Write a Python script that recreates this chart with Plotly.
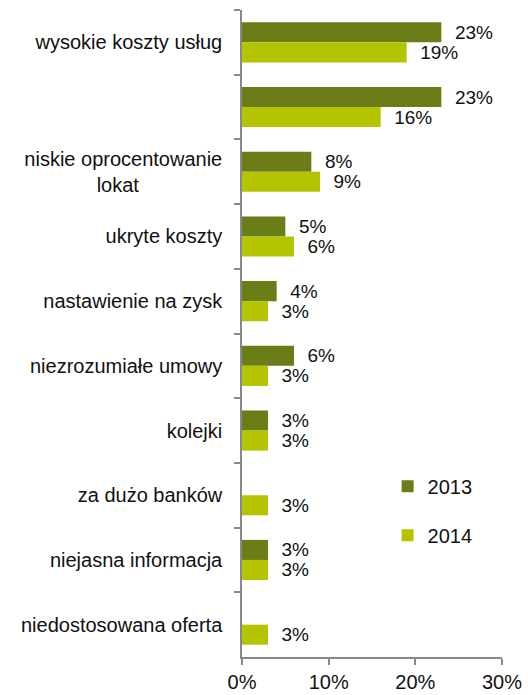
import plotly.graph_objects as go

NB = "\u00a0"
categories = [
    "wysokie koszty usług",
    " ",
    "niskie oprocentowanie<br>lokat" + NB * 15,
    "ukryte koszty",
    "nastawienie na zysk",
    "niezrozumiałe umowy",
    "kolejki",
    "za dużo banków",
    "niejasna informacja",
    "niedostosowana oferta",
]
values_2013 = [23, 23, 8, 5, 4, 6, 3, None, 3, None]
values_2014 = [19, 16, 9, 6, 3, 3, 3, 3, 3, 3]
series_names = ["2013", "2014"]
colors = ["#6b7d17", "#b5c400"]
x_ticks = [0, 10, 20, 30]

FONT = "Liberation Sans, Arial, sans-serif"
pad = NB * 2

fig = go.Figure()
for name, vals, col in zip(series_names, [values_2013, values_2014], colors):
    fig.add_trace(go.Bar(
        y=categories, x=vals, name=name, orientation="h",
        marker=dict(color=col, line=dict(width=0)),
        text=[(pad + f"{v}%") if v is not None else "" for v in vals],
        textposition="outside", cliponaxis=False, constraintext="none",
        textfont=dict(size=19, color="#111", family=FONT),
        legendgroup=name,
    ))

fig.update_layout(
    width=528, height=695,
    margin=dict(l=242, r=26, t=10, b=38),
    barmode="group", bargap=0.38, bargroupgap=0,
    plot_bgcolor="white", paper_bgcolor="white",
    font=dict(family=FONT, size=20, color="#111"),
    legend=dict(x=0.56, y=0.294, xanchor="left", yanchor="top",
                traceorder="grouped", tracegroupgap=20,
                font=dict(size=20, family=FONT), bgcolor="rgba(0,0,0,0)"),
    showlegend=True,
)
fig.update_xaxes(
    range=[0, 30], tickvals=x_ticks, ticktext=[f"{t}%" for t in x_ticks],
    showgrid=False, zeroline=False, showline=True, linecolor="#888", linewidth=1.5,
    ticks="outside", ticklen=6, tickcolor="#888", tickwidth=1.5,
    tickfont=dict(size=20, family=FONT), automargin=False,
)
fig.update_yaxes(
    autorange="reversed", type="category",
    showgrid=False, zeroline=False, showline=True, linecolor="#888", linewidth=1.5,
    ticks="outside", ticklen=6, tickcolor="#888", tickwidth=1.5,
    tickson="boundaries", ticklabelstandoff=14,
    tickfont=dict(size=20, family=FONT), automargin=False,
)

fig.write_html("out.html", config={"displayModeBar": False},
               post_script="document.body.style.margin='0';document.body.style.overflow='hidden';")
